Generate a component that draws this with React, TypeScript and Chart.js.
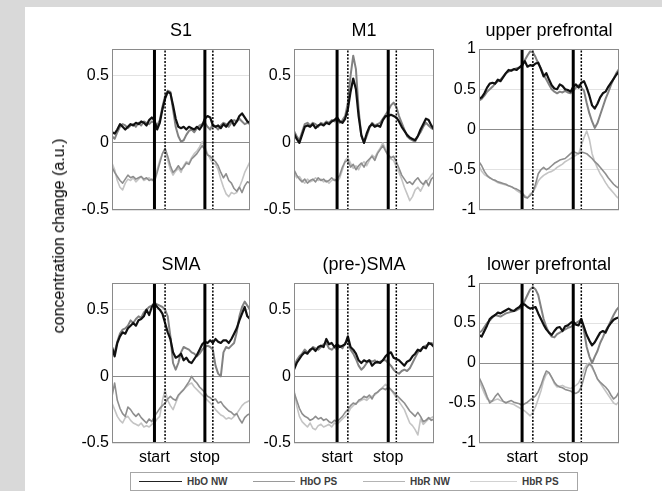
import React, { useEffect, useRef } from 'react';
import { Chart, registerables } from 'chart.js';

Chart.register(...registerables);

// ---------------- data ----------------
const timeAxis = [
  -8, -7.5, -7, -6.5, -6, -5.5, -5, -4.5, -4, -3.5,
  -3, -2.5, -2, -1.5, -1, -0.5, 0, 0.5, 1, 1.5,
  2, 2.5, 3, 3.5, 4, 4.5, 5, 5.5, 6, 6.5,
  7, 7.5, 8, 8.5, 9, 9.5, 10, 10.5, 11, 11.5,
  12, 12.5, 13, 13.5, 14, 14.5, 15, 15.5, 16, 16.5,
  17, 17.5, 18,
];
const eventTimes = [0, 9.5];
const eventLabels = ['start', 'stop'];
const delayTimes = [2, 11];
const seriesNames = ['HbO NW', 'HbO PS', 'HbR NW', 'HbR PS'];
const motorTicks = [-0.5, 0, 0.5];
const frontalTicks = [-1, -0.5, 0, 0.5, 1];
const motorRange = [-0.5, 0.7];
const frontalRange = [-1, 1];

const s1HbONW = [0.08,0.07,0.10,0.14,0.12,0.10,0.12,0.14,0.13,0.15, 0.14,0.16,0.15,0.13,0.17,0.19,0.17,0.10,0.15,0.25, 0.33,0.38,0.37,0.28,0.18,0.12,0.11,0.12,0.10,0.12, 0.11,0.10,0.12,0.10,0.13,0.18,0.20,0.19,0.13,0.12, 0.13,0.11,0.14,0.12,0.15,0.17,0.13,0.16,0.20,0.22, 0.19,0.16,0.15];
const s1HbOPS = [0.05,0.03,0.08,0.12,0.14,0.13,0.11,0.13,0.14,0.12, 0.15,0.13,0.16,0.15,0.14,0.16,0.15,0.13,0.17,0.27, 0.35,0.39,0.38,0.25,0.12,0.05,0.01,0.02,0.06,0.09, 0.10,0.08,0.11,0.13,0.14,0.15,0.12,0.10,0.14,0.12, 0.10,0.13,0.15,0.14,0.12,0.15,0.17,0.16,0.18,0.16, 0.14,0.15,0.14];
const s1HbRNW = [-0.18,-0.22,-0.25,-0.28,-0.30,-0.27,-0.24,-0.26,-0.25,-0.27, -0.26,-0.25,-0.27,-0.26,-0.28,-0.27,-0.29,-0.22,-0.15,-0.08, -0.04,-0.10,-0.17,-0.22,-0.20,-0.17,-0.20,-0.18,-0.15,-0.16, -0.12,-0.10,-0.08,-0.05,-0.02,-0.05,-0.09,-0.10,-0.12,-0.14, -0.17,-0.22,-0.26,-0.23,-0.28,-0.30,-0.34,-0.36,-0.33,-0.37, -0.32,-0.29,-0.30];
const s1HbRPS = [-0.15,-0.20,-0.28,-0.33,-0.35,-0.30,-0.27,-0.28,-0.26,-0.29, -0.27,-0.25,-0.28,-0.27,-0.26,-0.28,-0.27,-0.20,-0.13,-0.08, -0.05,-0.13,-0.20,-0.24,-0.21,-0.19,-0.22,-0.17,-0.14,-0.15, -0.11,-0.08,-0.06,-0.03,0.01,-0.03,-0.08,-0.12,-0.15,-0.16, -0.20,-0.27,-0.33,-0.38,-0.40,-0.37,-0.38,-0.37,-0.33,-0.28, -0.22,-0.18,-0.14];

const m1HbONW = [0.07,0.03,0.00,0.06,0.12,0.13,0.12,0.14,0.11,0.13, 0.14,0.13,0.15,0.14,0.16,0.17,0.19,0.16,0.15,0.18, 0.25,0.38,0.48,0.40,0.20,0.06,0.00,0.07,0.12,0.14, 0.12,0.13,0.12,0.17,0.20,0.20,0.21,0.20,0.19,0.16, 0.12,0.09,0.06,0.04,0.03,0.02,0.05,0.10,0.14,0.18, 0.17,0.13,0.10];
const m1HbOPS = [0.09,0.05,0.02,0.08,0.14,0.15,0.13,0.15,0.14,0.12, 0.15,0.14,0.16,0.15,0.17,0.16,0.18,0.15,0.17,0.20, 0.30,0.50,0.65,0.55,0.25,0.05,0.00,0.05,0.11,0.15, 0.13,0.14,0.15,0.18,0.21,0.24,0.28,0.30,0.27,0.20, 0.15,0.10,0.05,0.03,0.02,0.01,0.05,0.08,0.12,0.15, 0.13,0.11,0.10];
const m1HbRNW = [-0.20,-0.24,-0.27,-0.29,-0.27,-0.30,-0.28,-0.27,-0.29,-0.26, -0.28,-0.27,-0.29,-0.28,-0.26,-0.28,-0.27,-0.24,-0.18,-0.14, -0.13,-0.18,-0.16,-0.20,-0.17,-0.15,-0.18,-0.14,-0.12,-0.10, -0.13,-0.08,-0.05,-0.02,-0.06,-0.09,-0.11,-0.10,-0.14,-0.19, -0.24,-0.27,-0.30,-0.29,-0.31,-0.28,-0.26,-0.29,-0.31,-0.28, -0.32,-0.27,-0.25];
const m1HbRPS = [-0.22,-0.26,-0.25,-0.28,-0.30,-0.27,-0.29,-0.28,-0.26,-0.28, -0.27,-0.29,-0.28,-0.30,-0.28,-0.27,-0.29,-0.26,-0.20,-0.13, -0.11,-0.15,-0.19,-0.17,-0.20,-0.16,-0.14,-0.17,-0.13,-0.09, -0.11,-0.07,-0.04,0.00,-0.05,-0.10,-0.12,-0.13,-0.18,-0.22, -0.27,-0.33,-0.38,-0.43,-0.40,-0.35,-0.33,-0.36,-0.32,-0.29, -0.27,-0.24,-0.22];

const upHbONW = [0.38,0.40,0.45,0.52,0.57,0.58,0.57,0.62,0.60,0.65, 0.70,0.74,0.73,0.75,0.74,0.77,0.80,0.85,0.78,0.80, 0.79,0.82,0.83,0.75,0.66,0.70,0.62,0.55,0.51,0.50, 0.56,0.54,0.50,0.49,0.47,0.53,0.56,0.52,0.58,0.60, 0.52,0.42,0.30,0.26,0.32,0.40,0.45,0.47,0.53,0.58, 0.63,0.68,0.72];
const upHbOPS = [0.36,0.38,0.42,0.47,0.50,0.53,0.57,0.60,0.62,0.66, 0.70,0.72,0.74,0.75,0.76,0.77,0.78,0.86,0.92,0.97, 0.96,0.90,0.82,0.76,0.68,0.62,0.56,0.50,0.47,0.45, 0.47,0.46,0.48,0.46,0.45,0.48,0.52,0.55,0.52,0.48, 0.33,0.20,0.10,0.02,0.08,0.18,0.28,0.38,0.46,0.55, 0.63,0.70,0.75];
const upHbRNW = [-0.40,-0.45,-0.52,-0.57,-0.60,-0.62,-0.63,-0.65,-0.66,-0.67, -0.68,-0.70,-0.71,-0.73,-0.74,-0.76,-0.78,-0.84,-0.85,-0.82, -0.78,-0.68,-0.55,-0.50,-0.47,-0.50,-0.48,-0.45,-0.42,-0.40, -0.38,-0.37,-0.36,-0.33,-0.30,-0.27,-0.29,-0.30,-0.28,-0.29, -0.30,-0.33,-0.36,-0.40,-0.43,-0.47,-0.51,-0.55,-0.60,-0.64, -0.68,-0.71,-0.73];
const upHbRPS = [-0.45,-0.52,-0.56,-0.58,-0.60,-0.62,-0.64,-0.66,-0.67,-0.68, -0.69,-0.70,-0.71,-0.73,-0.76,-0.78,-0.80,-0.82,-0.85,-0.80, -0.78,-0.72,-0.64,-0.60,-0.57,-0.55,-0.53,-0.52,-0.50,-0.47, -0.45,-0.43,-0.40,-0.38,-0.36,-0.34,-0.32,-0.30,-0.20,-0.10, -0.02,-0.12,-0.30,-0.40,-0.48,-0.55,-0.60,-0.66,-0.71,-0.75, -0.79,-0.83,-0.86];

const smaHbONW = [0.22,0.15,0.25,0.30,0.33,0.32,0.36,0.38,0.40,0.38, 0.42,0.43,0.45,0.50,0.46,0.52,0.55,0.52,0.50,0.47, 0.40,0.33,0.28,0.18,0.14,0.15,0.17,0.12,0.14,0.11, 0.10,0.13,0.16,0.20,0.24,0.26,0.25,0.27,0.25,0.28, 0.26,0.25,0.27,0.27,0.25,0.28,0.32,0.36,0.42,0.47, 0.52,0.45,0.43];
const smaHbOPS = [0.20,0.18,0.26,0.32,0.35,0.36,0.38,0.42,0.40,0.43, 0.45,0.44,0.48,0.50,0.52,0.53,0.55,0.54,0.53,0.52, 0.50,0.45,0.30,0.10,0.05,0.10,0.18,0.22,0.21,0.20, 0.18,0.17,0.15,0.17,0.20,0.22,0.23,0.22,0.20,0.08, 0.02,0.00,0.18,0.22,0.21,0.23,0.25,0.33,0.45,0.52, 0.56,0.53,0.50];
const smaHbRNW = [-0.15,-0.05,-0.18,-0.24,-0.28,-0.30,-0.23,-0.25,-0.28,-0.30, -0.28,-0.31,-0.33,-0.35,-0.32,-0.34,-0.30,-0.27,-0.24,-0.22, -0.20,-0.17,-0.15,-0.17,-0.18,-0.14,-0.12,-0.10,-0.07,-0.04, 0.00,-0.03,-0.05,-0.08,-0.10,-0.12,-0.15,-0.16,-0.18,-0.17, -0.20,-0.19,-0.22,-0.24,-0.26,-0.27,-0.29,-0.28,-0.32,-0.35, -0.31,-0.29,-0.28];
const smaHbRPS = [-0.20,-0.25,-0.30,-0.33,-0.35,-0.31,-0.30,-0.33,-0.35,-0.36, -0.37,-0.35,-0.38,-0.37,-0.38,-0.36,-0.35,-0.32,-0.30,-0.18, -0.10,-0.18,-0.22,-0.25,-0.20,-0.15,-0.12,-0.10,-0.08,-0.06, -0.05,-0.08,-0.10,-0.12,-0.14,-0.16,-0.18,-0.20,-0.22,-0.25, -0.27,-0.29,-0.30,-0.32,-0.31,-0.32,-0.30,-0.28,-0.25,-0.22, -0.20,-0.19,-0.18];

const preHbONW = [0.05,0.10,0.13,0.16,0.18,0.17,0.20,0.21,0.19,0.22, 0.23,0.22,0.28,0.24,0.25,0.22,0.24,0.22,0.23,0.24, 0.30,0.22,0.20,0.17,0.12,0.10,0.12,0.11,0.12,0.08, 0.10,0.11,0.10,0.12,0.15,0.17,0.18,0.14,0.13,0.12, 0.10,0.08,0.11,0.12,0.15,0.17,0.20,0.19,0.22,0.21, 0.25,0.24,0.22];
const preHbOPS = [0.08,0.12,0.15,0.17,0.20,0.18,0.19,0.22,0.21,0.20, 0.22,0.24,0.25,0.21,0.20,0.22,0.20,0.23,0.21,0.25, 0.27,0.20,0.17,0.13,0.08,0.05,0.07,0.10,0.12,0.11, 0.12,0.10,0.11,0.12,0.12,0.10,0.08,0.05,0.03,0.02, 0.04,0.05,0.04,0.06,0.10,0.14,0.18,0.20,0.22,0.23, 0.24,0.25,0.24];
const preHbRNW = [-0.12,-0.18,-0.24,-0.28,-0.30,-0.31,-0.33,-0.32,-0.30,-0.32, -0.31,-0.33,-0.32,-0.34,-0.35,-0.33,-0.34,-0.32,-0.30,-0.27, -0.25,-0.22,-0.20,-0.21,-0.18,-0.17,-0.15,-0.16,-0.14,-0.17, -0.13,-0.12,-0.10,-0.09,-0.10,-0.08,-0.10,-0.12,-0.14,-0.16, -0.18,-0.20,-0.23,-0.26,-0.28,-0.30,-0.27,-0.30,-0.34,-0.33, -0.31,-0.33,-0.32];
const preHbRPS = [-0.10,-0.22,-0.30,-0.34,-0.36,-0.38,-0.35,-0.39,-0.40,-0.37, -0.36,-0.38,-0.37,-0.36,-0.38,-0.35,-0.36,-0.34,-0.32,-0.30, -0.28,-0.24,-0.22,-0.20,-0.19,-0.18,-0.17,-0.18,-0.16,-0.15, -0.14,-0.12,-0.10,-0.08,-0.06,-0.08,-0.10,-0.13,-0.16,-0.19, -0.22,-0.25,-0.30,-0.35,-0.37,-0.40,-0.44,-0.32,-0.36,-0.34, -0.32,-0.31,-0.30];

const lowHbONW = [0.35,0.33,0.40,0.47,0.55,0.58,0.60,0.63,0.62,0.64, 0.66,0.68,0.66,0.65,0.68,0.70,0.74,0.73,0.70,0.68, 0.69,0.70,0.62,0.55,0.48,0.42,0.38,0.35,0.40,0.44, 0.45,0.40,0.46,0.47,0.50,0.52,0.48,0.47,0.55,0.45, 0.35,0.28,0.22,0.26,0.32,0.38,0.40,0.38,0.45,0.50, 0.54,0.56,0.57];
const lowHbOPS = [0.38,0.40,0.45,0.50,0.53,0.57,0.60,0.59,0.58,0.60, 0.62,0.63,0.64,0.65,0.66,0.68,0.70,0.78,0.85,0.92, 0.95,0.92,0.85,0.70,0.55,0.45,0.38,0.33,0.32,0.36, 0.38,0.40,0.42,0.44,0.45,0.47,0.50,0.52,0.55,0.40, 0.20,0.08,0.00,0.08,0.15,0.25,0.32,0.40,0.46,0.53, 0.60,0.66,0.70];
const lowHbRNW = [-0.18,-0.25,-0.33,-0.42,-0.50,-0.47,-0.42,-0.38,-0.43,-0.48, -0.50,-0.48,-0.47,-0.49,-0.50,-0.51,-0.53,-0.51,-0.49,-0.46, -0.44,-0.41,-0.36,-0.28,-0.18,-0.10,-0.12,-0.18,-0.24,-0.28, -0.30,-0.31,-0.33,-0.34,-0.35,-0.37,-0.38,-0.36,-0.30,-0.18, -0.06,-0.01,-0.04,-0.12,-0.20,-0.24,-0.27,-0.30,-0.34,-0.40, -0.45,-0.42,-0.36];
const lowHbRPS = [-0.20,-0.30,-0.38,-0.45,-0.47,-0.48,-0.46,-0.45,-0.47,-0.48, -0.49,-0.50,-0.51,-0.52,-0.54,-0.56,-0.58,-0.60,-0.63,-0.66, -0.62,-0.55,-0.45,-0.35,-0.22,-0.14,-0.12,-0.18,-0.26,-0.30, -0.29,-0.28,-0.30,-0.31,-0.32,-0.30,-0.28,-0.25,-0.18,-0.08, -0.02,0.00,-0.06,-0.12,-0.20,-0.25,-0.30,-0.35,-0.40,-0.45, -0.50,-0.52,-0.48];

// ---------------- styles / layout ----------------
const FONT = '"Liberation Sans", Arial, Helvetica, sans-serif';
const seriesColors = ['#111111', '#828282', '#8e8e8e', '#c4c4c4'];
const legendColors = ['#222222', '#9a9a9a', '#b4b4b4', '#d2d2d2'];
const seriesWidths = [2.2, 2, 1.6, 1.6];
const Y_AXIS_W = 50;
const X_AXIS_H = 30;
const TITLE_H = 31;
const RIGHT_PAD = 5;

const panels = [
  { title: 'S1', series: [s1HbONW, s1HbOPS, s1HbRNW, s1HbRPS], range: motorRange, ticks: motorTicks, left: 112, top: 49, w: 138, h: 161, showX: false },
  { title: 'M1', series: [m1HbONW, m1HbOPS, m1HbRNW, m1HbRPS], range: motorRange, ticks: motorTicks, left: 294, top: 49, w: 140, h: 161, showX: false },
  { title: 'upper prefrontal', series: [upHbONW, upHbOPS, upHbRNW, upHbRPS], range: frontalRange, ticks: frontalTicks, left: 479, top: 49, w: 140, h: 161, showX: false },
  { title: 'SMA', series: [smaHbONW, smaHbOPS, smaHbRNW, smaHbRPS], range: motorRange, ticks: motorTicks, left: 112, top: 283, w: 138, h: 160, showX: true },
  { title: '(pre-)SMA', series: [preHbONW, preHbOPS, preHbRNW, preHbRPS], range: motorRange, ticks: motorTicks, left: 294, top: 283, w: 140, h: 160, showX: true },
  { title: 'lower prefrontal', series: [lowHbONW, lowHbOPS, lowHbRNW, lowHbRPS], range: frontalRange, ticks: frontalTicks, left: 479, top: 283, w: 140, h: 160, showX: true },
];

const framePlugin = {
  id: 'frame',
  afterDraw(chart: any) {
    const { ctx, chartArea } = chart;
    const { left, top, right, bottom } = chartArea;
    ctx.save();
    ctx.strokeStyle = '#8a8a8a';
    ctx.lineWidth = 1;
    ctx.strokeRect(Math.round(left) + 0.5, Math.round(top) + 0.5, Math.round(right - left) - 1, Math.round(bottom - top) - 1);
    ctx.restore();
  },
};

function Panel({ p }: { p: any }) {
  const ref = useRef<HTMLCanvasElement | null>(null);
  const cw = Y_AXIS_W + p.w + RIGHT_PAD;
  const ch = TITLE_H + p.h + X_AXIS_H;

  useEffect(() => {
    if (!ref.current) return;
    const [yMin, yMax] = p.range;
    const markers: any[] = [];
    eventTimes.forEach((t) => {
      markers.push({
        data: [{ x: t, y: yMin }, { x: t, y: yMax }],
        borderColor: '#000000',
        borderWidth: 3,
        pointRadius: 0,
        clip: 0,
      });
    });
    delayTimes.forEach((t) => {
      markers.push({
        data: [{ x: t, y: yMin }, { x: t, y: yMax }],
        borderColor: '#000000',
        borderWidth: 1.5,
        borderDash: [2, 1.5],
        pointRadius: 0,
        clip: 0,
      });
    });
    const lines = p.series.map((vals: number[], k: number) => ({
      label: seriesNames[k],
      data: timeAxis.map((t, i) => ({ x: t, y: vals[i] })),
      borderColor: seriesColors[k],
      borderWidth: seriesWidths[k],
      pointRadius: 0,
      tension: 0,
      borderJoinStyle: 'round',
    }));

    const chart = new Chart(ref.current, {
      type: 'line',
      data: { datasets: [...markers, ...lines] },
      options: {
        animation: false,
        responsive: false,
        devicePixelRatio: 1,
        events: [],
        layout: { padding: { left: 0, right: RIGHT_PAD, top: 0, bottom: 0 } },
        plugins: {
          legend: { display: false },
          tooltip: { enabled: false },
          title: {
            display: true,
            fullSize: false,
            text: p.title,
            color: '#000000',
            font: { family: FONT, size: 18, weight: 'normal', lineHeight: '20px' },
            padding: { top: 3, bottom: 8 },
          },
        },
        scales: {
          x: {
            type: 'linear',
            min: timeAxis[0],
            max: timeAxis[timeAxis.length - 1],
            border: { display: false },
            grid: { display: false, drawTicks: false },
            afterBuildTicks: (s: any) => {
              s.ticks = eventTimes.map((v) => ({ value: v }));
            },
            afterFit: (s: any) => {
              s.height = X_AXIS_H;
            },
            ticks: {
              display: p.showX,
              autoSkip: false,
              maxRotation: 0,
              padding: 5,
              color: '#000000',
              font: { family: FONT, size: 16, lineHeight: '20px' },
              callback: (v: any) => {
                const idx = eventTimes.indexOf(Number(v));
                return idx >= 0 ? eventLabels[idx] : '';
              },
            },
          },
          y: {
            min: yMin,
            max: yMax,
            border: { display: false },
            grid: {
              drawTicks: false,
              lineWidth: 1,
              color: (ctx: any) => (ctx.tick && ctx.tick.value === 0 ? '#8c8c8c' : '#e2e2e2'),
            },
            afterBuildTicks: (s: any) => {
              s.ticks = p.ticks.map((v: number) => ({ value: v }));
            },
            afterFit: (s: any) => {
              s.width = Y_AXIS_W;
            },
            ticks: {
              padding: 3,
              color: '#000000',
              font: { family: FONT, size: 16, lineHeight: '20px' },
              callback: (v: any) => String(v),
            },
          },
        },
      } as any,
      plugins: [framePlugin],
    } as any);
    return () => chart.destroy();
  }, []);

  return (
    <canvas
      ref={ref}
      width={cw}
      height={ch}
      style={{
        position: 'absolute',
        left: p.left - Y_AXIS_W,
        top: p.top - TITLE_H,
        width: cw,
        height: ch,
      }}
    />
  );
}

const legendSlots = [
  { lineLeft: 139, lineWidth: 43, textLeft: 187 },
  { lineLeft: 253, lineWidth: 42, textLeft: 300 },
  { lineLeft: 363, lineWidth: 42, textLeft: 410 },
  { lineLeft: 470, lineWidth: 47, textLeft: 522 },
];

export default function App() {
  return (
    <div style={{ position: 'absolute', left: 0, top: 0, width: 662, height: 491, background: '#d9d9d9', overflow: 'hidden', fontFamily: FONT }}>
      <div style={{ position: 'absolute', left: 25, top: 7, width: 637, height: 484, background: '#ffffff' }} />
      {panels.map((p, i) => (
        <Panel key={i} p={p} />
      ))}
      <div
        style={{
          position: 'absolute',
          left: 59,
          top: 236,
          transform: 'translate(-50%, -50%) rotate(-90deg)',
          whiteSpace: 'nowrap',
          fontSize: 16,
          lineHeight: '20px',
          color: '#000',
        }}
      >
        concentration change (a.u.)
      </div>
      <div
        style={{
          position: 'absolute',
          left: 130,
          top: 472,
          width: 448,
          height: 19,
          boxSizing: 'border-box',
          border: '1px solid #a6a6a6',
          background: '#ffffff',
        }}
      />
      {legendSlots.map((s, k) => (
        <React.Fragment key={k}>
          <div
            style={{
              position: 'absolute',
              left: s.lineLeft,
              top: 481,
              width: s.lineWidth,
              height: 0,
              borderTop: `1.5px solid ${legendColors[k]}`,
            }}
          />
          <div
            style={{
              position: 'absolute',
              left: s.textLeft,
              top: 475,
              height: 13,
              lineHeight: '13px',
              fontSize: 10,
              fontWeight: 'bold',
              color: '#3c3c3c',
              whiteSpace: 'nowrap',
            }}
          >
            {seriesNames[k]}
          </div>
        </React.Fragment>
      ))}
    </div>
  );
}
